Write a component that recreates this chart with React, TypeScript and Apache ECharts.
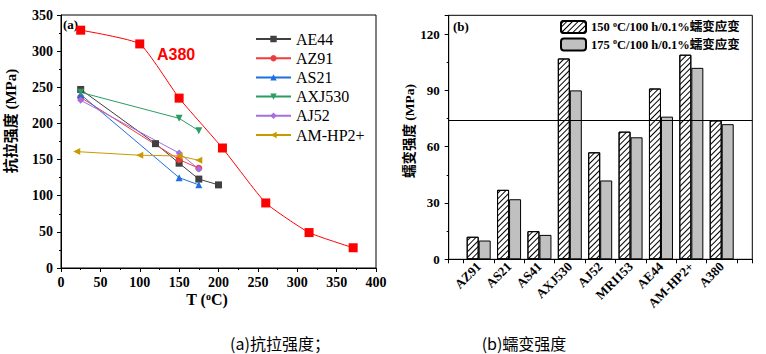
import React, { useEffect, useRef } from "react";
import * as echarts from "echarts";

// ---- (a) tensile strength vs temperature ----
const alloyNames = ["AE44", "AZ91", "AS21", "AXJ530", "AJ52", "AM-HP2+"];
const ae44 = [[25, 247], [120, 172], [150, 145], [175, 123], [200, 115]];
const az91 = [[25, 236], [150, 150], [175, 138]];
const as21 = [[25, 240], [150, 125], [175, 115]];
const axj530 = [[25, 243], [150, 207], [175, 190]];
const aj52 = [[25, 232], [150, 159], [175, 137]];
const amhp2 = [[20, 161], [100, 156], [150, 155], [175, 149]];
const a380 = [[25, 329], [100, 310], [150, 235], [205, 166], [260, 90], [315, 49], [371, 28]];

// ---- (b) creep strength ----
const creepCategories = ["AZ91", "AS21", "AS41", "AXJ530", "AJ52", "MRI153", "AE44", "AM-HP2+", "A380"];
const creep150 = [12, 37, 15, 107, 57, 68, 91, 109, 74];
const creep175 = [10, 32, 13, 90, 42, 65, 76, 102, 72];
const creepRefLine = 74;
const creepSeriesNames = ["150 °C/100 h/0.1%蠕变应变", "175 °C/100 h/0.1%蠕变应变"];

// styles
const alloyColors = ["#404040", "#f03c3c", "#1f6fe0", "#2a9d62", "#a66ee0", "#c99a00"];
const alloySymbols = ["rect", "circle", "triangle", "triangle", "diamond", "triangle"];
const alloyRotate = [0, 0, 0, 180, 0, 90];

const SERIF = "'Liberation Serif', 'Times New Roman', 'Noto Sans CJK SC', serif";
const CAPTION = "'Liberation Sans Narrow', 'Noto Sans CJK SC', sans-serif";

export default function App() {
  const ref = useRef<HTMLDivElement>(null);
  useEffect(() => {
    if (!ref.current) return;
    const chart = echarts.init(ref.current, null, { renderer: "svg" });
    const tensileData = [ae44, az91, as21, axj530, aj52, amhp2];

    const axisLabelStyle = { color: "#000", fontFamily: SERIF, fontWeight: "bold" as const, fontSize: 14 };
    const tickStyle = { show: true, inside: false, length: 4, lineStyle: { color: "#000", width: 1 } };
    const minorStyle = { show: true, splitNumber: 2, length: 2, lineStyle: { color: "#000", width: 1 } };

    const series: any[] = alloyNames.map((name, i) => ({
      name,
      type: "line",
      xAxisIndex: 0,
      yAxisIndex: 0,
      data: tensileData[i],
      symbol: alloySymbols[i],
      symbolRotate: alloyRotate[i],
      symbolSize: 7,
      lineStyle: { color: alloyColors[i], width: 1 },
      itemStyle: { color: alloyColors[i] },
      z: 3,
    }));
    series.push({
      name: "A380",
      type: "line",
      xAxisIndex: 0,
      yAxisIndex: 0,
      data: a380,
      symbol: "rect",
      symbolSize: 9,
      smooth: 0.15,
      lineStyle: { color: "#ff0000", width: 1 },
      itemStyle: { color: "#ff0000" },
      z: 3,
    });

    series.push({
      name: creepSeriesNames[0],
      type: "bar",
      xAxisIndex: 2,
      yAxisIndex: 2,
      data: creep150,
      barWidth: 12,
      barGap: "0%",
      itemStyle: {
        color: "#ffffff",
        borderColor: "#000",
        borderWidth: 1,
        decal: {
          symbol: "rect",
          symbolSize: 1,
          color: "#000",
          backgroundColor: "#ffffff",
          dashArrayX: [1, 0],
          dashArrayY: [1, 3],
          rotation: -Math.PI / 4,
        },
      },
    });
    series.push({
      name: creepSeriesNames[1],
      type: "bar",
      xAxisIndex: 2,
      yAxisIndex: 2,
      data: creep175,
      barWidth: 12,
      barGap: "0%",
      itemStyle: { color: "#c0c0c0", borderColor: "#000", borderWidth: 1 },
    });
    series.push({
      name: "ref",
      type: "line",
      xAxisIndex: 1,
      yAxisIndex: 1,
      data: [],
      z: 10,
      markLine: {
        silent: true,
        symbol: "none",
        label: { show: false },
        lineStyle: { color: "#000", width: 1, type: "solid" },
        data: [{ yAxis: creepRefLine }],
      },
    });

    const option: any = {
      animation: false,
      grid: [
        { left: 61, top: 15, width: 315, height: 253, show: true, borderColor: "#000", borderWidth: 1, backgroundColor: "transparent" },
        { left: 448.7, top: 15.3, width: 303.6, height: 244, show: true, borderColor: "#000", borderWidth: 1, backgroundColor: "transparent" },
        { left: 463.5, top: 15.3, width: 273.4, height: 244 },
      ],
      xAxis: [
        {
          gridIndex: 0, type: "value", min: 0, max: 400, interval: 50,
          axisLine: { show: true, lineStyle: { color: "#000" } },
          axisTick: tickStyle, minorTick: minorStyle,
          splitLine: { show: false },
          axisLabel: { ...axisLabelStyle, margin: 7 },
        },
        {
          gridIndex: 1, type: "value", min: 0, max: 1, interval: 1,
          axisLine: { show: true, lineStyle: { color: "#000" } },
          axisTick: tickStyle,
          splitLine: { show: false },
          axisLabel: { show: false },
        },
        {
          gridIndex: 2, type: "category", data: creepCategories, boundaryGap: true,
          axisLine: { show: true, lineStyle: { color: "#000" } },
          axisTick: tickStyle,
          axisLabel: { ...axisLabelStyle, fontSize: 13, rotate: 45, margin: 5, interval: 0 },
        },
      ],
      yAxis: [
        {
          gridIndex: 0, type: "value", min: 0, max: 350, interval: 50,
          axisLine: { show: true, lineStyle: { color: "#000" } },
          axisTick: tickStyle, minorTick: minorStyle,
          splitLine: { show: false },
          axisLabel: { ...axisLabelStyle, margin: 8 },
        },
        {
          gridIndex: 1, type: "value", min: 0, max: 130, interval: 30,
          axisLine: { show: true, lineStyle: { color: "#000" } },
          axisTick: tickStyle, minorTick: minorStyle,
          splitLine: { show: false },
          axisLabel: { ...axisLabelStyle, fontSize: 13, margin: 9, showMaxLabel: false },
        },
        {
          gridIndex: 2, type: "value", min: 0, max: 130, interval: 30, show: false,
          splitLine: { show: false },
        },
      ],
      legend: [
        {
          data: alloyNames,
          orient: "vertical",
          left: 255,
          top: 31,
          padding: 0,
          itemWidth: 35,
          itemHeight: 8,
          itemGap: 3.2,
          formatter: (name: string) => "{t|" + name + "}",
          textStyle: {
            fontFamily: SERIF, fontSize: 16, color: "#000", lineHeight: 16,
            rich: { t: { fontFamily: "'Liberation Serif', 'Times New Roman', serif", fontSize: 16, color: "#000", lineHeight: 16 } },
          },
        },
        {
          data: creepSeriesNames,
          orient: "vertical",
          left: 560,
          top: 20,
          padding: 0,
          itemWidth: 25,
          itemHeight: 12,
          itemGap: 3.5,
          formatter: (name: string) => name.replace("°", "{sup|o}"),
          textStyle: {
            fontFamily: SERIF, fontSize: 12.5, fontWeight: "bold", color: "#000", lineHeight: 14,
            rich: { sup: { fontFamily: SERIF, fontSize: 8, fontWeight: "bold", color: "#000", verticalAlign: "top", lineHeight: 14 } },
          },
        },
      ],
      graphic: [
        { type: "text", x: 63, y: 24, style: { text: "(a)", fontFamily: SERIF, fontWeight: "bold", fontSize: 13, fill: "#000", verticalAlign: "middle" } },
        { type: "text", x: 453, y: 26, style: { text: "(b)", fontFamily: SERIF, fontWeight: "bold", fontSize: 13, fill: "#000", verticalAlign: "middle" } },
        { type: "text", x: 157, y: 54, style: { text: "A380", fontFamily: "'Liberation Sans', Arial, sans-serif", fontWeight: "bold", fontSize: 16, fill: "#ff0000", verticalAlign: "middle" } },
        {
          type: "text", x: 11, y: 121, rotation: Math.PI / 2,
          style: { text: "抗拉强度 (MPa)", fontFamily: SERIF, fontWeight: "bold", fontSize: 15, fill: "#000", align: "center", verticalAlign: "middle" },
        },
        {
          type: "text", x: 409, y: 131, rotation: Math.PI / 2,
          style: { text: "蠕变强度 (MPa)", fontFamily: SERIF, fontWeight: "bold", fontSize: 13.5, fill: "#000", align: "center", verticalAlign: "middle" },
        },
        {
          type: "text", x: 207, y: 299,
          style: {
            text: "T ({sup|o}C)", fontFamily: SERIF, fontWeight: "bold", fontSize: 16, fill: "#000", align: "center", verticalAlign: "middle",
            rich: { sup: { fontFamily: SERIF, fontWeight: "bold", fontSize: 10, fill: "#000", verticalAlign: "top", lineHeight: 16 } },
          },
        },
        { type: "text", x: 280, y: 343, style: { text: "(a)抗拉强度；", fontFamily: CAPTION, fontSize: 16, fill: "#000", align: "center", verticalAlign: "middle" } },
        { type: "text", x: 524, y: 343, style: { text: "(b)蠕变强度", fontFamily: CAPTION, fontSize: 16, fill: "#000", align: "center", verticalAlign: "middle" } },
      ],
      series,
    };
    chart.setOption(option);
    return () => chart.dispose();
  }, []);
  return <div ref={ref} style={{ position: "fixed", left: 0, top: 0, width: 766, height: 354, background: "#fff" }} />;
}
